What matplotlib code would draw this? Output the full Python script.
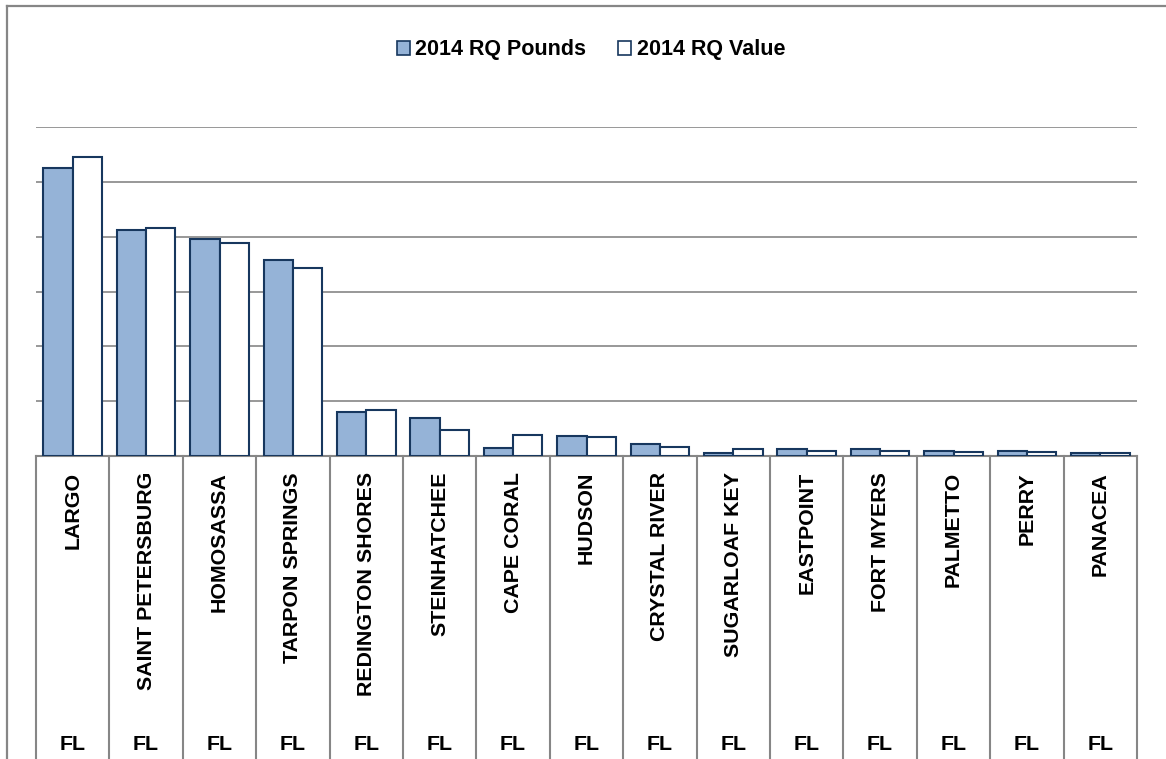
import numpy as np
import matplotlib
matplotlib.use("Agg")
import matplotlib.pyplot as plt
from matplotlib.patches import Patch
from matplotlib.lines import Line2D

# data (units = one gridline step, axis has no labels)
cities = ["LARGO", "SAINT PETERSBURG", "HOMOSASSA", "TARPON SPRINGS", "REDINGTON SHORES",
          "STEINHATCHEE", "CAPE CORAL", "HUDSON", "CRYSTAL RIVER", "SUGARLOAF KEY",
          "EASTPOINT", "FORT MYERS", "PALMETTO", "PERRY", "PANACEA"]
states = ["FL"] * 15
pounds = [5.25, 4.12, 3.96, 3.57, 0.81, 0.69, 0.15, 0.36, 0.21, 0.05, 0.12, 0.12, 0.09, 0.09, 0.06]
value = [5.46, 4.16, 3.89, 3.43, 0.83, 0.48, 0.39, 0.35, 0.16, 0.13, 0.10, 0.09, 0.08, 0.08, 0.06]

W, H = 1166, 759
grey = "#868686"
blue = "#95B3D7"
edge = "#17375E"
plt.rcParams['font.family'] = ['Liberation Sans', 'DejaVu Sans']

fig = plt.figure(figsize=(W / 100, H / 100), dpi=100)
# plot area: x 36..1137 px, y 127..456 px
ax = fig.add_axes([36 / W, (H - 456) / H, 1101 / W, 329 / H])

x = np.arange(len(cities))
ax.bar(x - 0.2, pounds, 0.4, color=blue, edgecolor=edge, linewidth=1.5, zorder=3)
ax.bar(x + 0.2, value, 0.4, color="white", edgecolor=edge, linewidth=1.5, zorder=3)

ax.set_xlim(-0.5, len(cities) - 0.5)
ax.set_ylim(0, 6)
ax.set_yticks(range(0, 7))
ax.yaxis.grid(True, color=grey, linewidth=1.2, zorder=0)
ax.set_xticks([])
ax.tick_params(left=False, labelleft=False)
for s in ["left", "right", "top"]:
    ax.spines[s].set_visible(False)
ax.spines["bottom"].set_color(grey)
ax.spines["bottom"].set_linewidth(1.5)
ax.spines["bottom"].set_zorder(2)

# multi-level category axis under the plot
tr = ax.get_xaxis_transform()
px = lambda yp: (456 - yp) / 329
for b in np.arange(-0.5, len(cities), 1.0):
    ax.plot([b, b], [0, px(704)], color=grey, lw=1.5, transform=tr, clip_on=False)
    ax.plot([b, b], [px(706), px(H + 2)], color=grey, lw=1.5, transform=tr, clip_on=False)
for i, (c, st) in enumerate(zip(cities, states)):
    ax.text(i, px(472), c, rotation=90, ha="center", va="top", fontsize=15.4,
            fontweight="bold", transform=tr)
    ax.text(i, px(750), st, ha="center", va="baseline", fontsize=15.4,
            fontweight="bold", transform=tr)

# outer chart frame (top and left visible)
fig.add_artist(Line2D([6.5 / W, 6.5 / W], [0, 1 - 5.5 / H], color=grey, lw=1.6))
fig.add_artist(Line2D([6.5 / W, 1], [1 - 5.5 / H, 1 - 5.5 / H], color=grey, lw=1.6))

handles = [Patch(facecolor=blue, edgecolor=edge, linewidth=1.2),
           Patch(facecolor="white", edgecolor=edge, linewidth=1.2)]
fig.legend(handles, ["2014 RQ Pounds", "2014 RQ Value"], loc="center",
           bbox_to_anchor=(591 / W, 1 - 50 / H), ncol=2, frameon=False,
           prop={"weight": "bold", "size": 15.5}, handlelength=0.6, handleheight=0.6,
           handletextpad=0.25, columnspacing=1.5)

fig.savefig("out.png", dpi=100, facecolor="white")
